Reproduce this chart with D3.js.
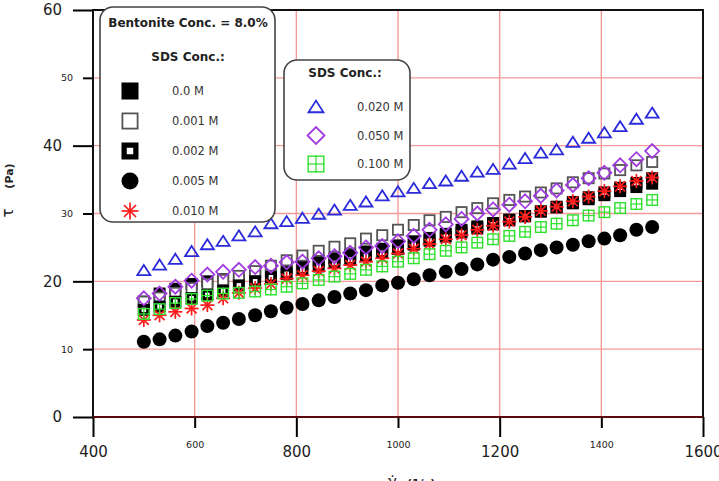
<!DOCTYPE html>
<html>
<head>
<meta charset="utf-8">
<script src="https://d3js.org/d3.v7.min.js"></script>
<style>
  body { margin: 0; background: #fff; }
  svg { display: block; font-family: "DejaVu Sans", Verdana, sans-serif; }
</style>
</head>
<body>
<script>
// shear rate (1/s)
var shearRate = [500, 531, 562, 594, 625, 656, 687, 719, 750, 781, 812, 844, 875, 906, 937, 969, 1000,
  1031, 1062, 1094, 1125, 1156, 1187, 1219, 1250, 1281, 1312, 1344, 1375, 1406, 1437, 1469, 1500];

// shear stress (Pa) for each SDS concentration
var sds000 = [17.0, 18.2, 18.9, 19.6, 20.0, 20.3, 20.6, 21.2, 21.6, 22.0, 22.5, 23.0, 23.4, 23.9, 24.4, 24.8, 25.3,
  25.9, 26.4, 27.0, 27.6, 28.1, 28.6, 29.1, 29.6, 30.3, 30.9, 31.5, 32.1, 32.7, 33.3, 33.9, 34.4];
var sds001 = [17.0, 17.6, 18.3, 19.0, 19.6, 20.2, 20.8, 21.5, 22.3, 23.1, 23.8, 24.5, 25.1, 25.6, 26.3, 26.8, 27.6,
  28.3, 29.0, 29.5, 30.2, 30.8, 31.5, 32.0, 32.5, 33.1, 33.7, 34.6, 35.2, 35.9, 36.4, 37.1, 37.6];
var sds002 = [15.8, 16.3, 17.0, 17.5, 18.0, 18.6, 19.4, 20.0, 20.6, 21.1, 21.7, 22.2, 22.7, 23.2, 23.7, 24.2, 24.8,
  25.4, 26.0, 26.6, 27.2, 27.8, 28.4, 29.0, 29.6, 30.3, 31.0, 31.7, 32.4, 33.1, 33.8, 34.5, 35.2];
var sds005 = [11.1, 11.45, 12.0, 12.6, 13.4, 13.9, 14.45, 15.0, 15.6, 16.1, 16.65, 17.2, 17.7, 18.2, 18.7, 19.4, 19.8,
  20.3, 20.9, 21.4, 21.8, 22.5, 23.2, 23.6, 24.1, 24.6, 25.0, 25.4, 25.9, 26.3, 26.8, 27.6, 28.0];
var sds010 = [14.3, 15.0, 15.5, 16.0, 16.5, 17.5, 18.3, 19.0, 19.6, 20.4, 20.9, 21.5, 21.9, 22.4, 22.9, 23.4, 24.1,
  24.8, 25.5, 26.2, 26.8, 27.6, 28.2, 28.8, 29.5, 30.4, 31.0, 31.8, 32.5, 33.3, 34.0, 34.8, 35.3];
var sds020 = [21.6, 22.4, 23.25, 24.4, 25.4, 25.9, 26.7, 27.3, 28.5, 28.8, 29.3, 29.9, 30.5, 31.2, 31.7, 32.6, 33.2,
  33.7, 34.4, 34.8, 35.5, 36.1, 36.5, 37.3, 38.1, 38.9, 39.4, 40.5, 41.1, 41.9, 42.8, 43.9, 44.8];
var sds050 = [17.5, 18.2, 19.2, 20.1, 21.0, 21.4, 21.7, 22.1, 22.3, 22.8, 22.9, 23.4, 23.7, 24.2, 25.0, 25.2, 25.9,
  26.7, 27.6, 28.4, 29.2, 30.0, 30.6, 31.3, 31.8, 32.6, 33.4, 34.2, 35.2, 36.0, 37.1, 38.0, 39.2];
var sds100 = [15.2, 15.9, 16.8, 17.4, 17.9, 18.2, 18.3, 18.5, 18.8, 19.2, 19.7, 20.2, 20.7, 21.1, 21.7, 22.2, 22.9,
  23.4, 24.0, 24.5, 25.0, 25.7, 26.2, 26.7, 27.3, 28.0, 28.5, 29.0, 29.7, 30.2, 30.8, 31.4, 32.0];

var legendLeft = ["0.0 M", "0.001 M", "0.002 M", "0.005 M", "0.010 M"];
var legendRight = ["0.020 M", "0.050 M", "0.100 M"];

var xMajor = [400, 800, 1200, 1600], xMinor = [600, 1000, 1400];
var yMajor = [0, 20, 40, 60], yMinor = [10, 30, 50];

var series = [
  { label: legendLeft[0], values: sds000, sym: "fill" },
  { label: legendLeft[1], values: sds001, sym: "open" },
  { label: legendLeft[2], values: sds002, sym: "hole" },
  { label: legendLeft[3], values: sds005, sym: "dot" },
  { label: legendLeft[4], values: sds010, sym: "star" },
  { label: legendRight[0], values: sds020, sym: "tri" },
  { label: legendRight[1], values: sds050, sym: "dia" },
  { label: legendRight[2], values: sds100, sym: "grid" }
];
var plotSize = { fill: 12, open: 12, hole: 12, dot: 14, star: 14, tri: 13, dia: 14, grid: 12 };

var W = 719, H = 481;
var svg = d3.select("body").append("svg").attr("width", W).attr("height", H);

var x = d3.scaleLinear().domain([400, 1600]).range([93, 703]);
var y = d3.scaleLinear().domain([0, 60]).range([417, 10]);

// marker drawing
function symbol(g, type, s) {
  var h = s / 2;
  if (type == "fill") {
    g.append("rect").attr("x", -h).attr("y", -h).attr("width", s).attr("height", s).attr("fill", "#000");
  } else if (type == "open") {
    g.append("rect").attr("x", -h + 0.9).attr("y", -h + 0.9).attr("width", s - 1.8).attr("height", s - 1.8)
      .attr("fill", "#fff").attr("stroke", "#555").attr("stroke-width", 1.8);
  } else if (type == "hole") {
    g.append("rect").attr("x", -h).attr("y", -h).attr("width", s).attr("height", s).attr("fill", "#000");
    var k = s * 0.19;
    g.append("rect").attr("x", -k).attr("y", -k).attr("width", 2 * k).attr("height", 2 * k).attr("fill", "#fff");
  } else if (type == "dot") {
    g.append("circle").attr("r", h).attr("fill", "#000");
  } else if (type == "star") {
    [0, 45, 90, 135].forEach(function(a) {
      var r = a * Math.PI / 180;
      g.append("line").attr("x1", -h * Math.cos(r)).attr("y1", -h * Math.sin(r))
        .attr("x2", h * Math.cos(r)).attr("y2", h * Math.sin(r))
        .attr("stroke", "#ff1a1a").attr("stroke-width", 1.7);
    });
  } else if (type == "tri") {
    g.append("path").attr("d", "M0," + (-h * 0.85) + "L" + h + "," + (h * 0.7) + "L" + (-h) + "," + (h * 0.7) + "Z")
      .attr("fill", "none").attr("stroke", "#2b2bdc").attr("stroke-width", 1.8);
  } else if (type == "dia") {
    g.append("path").attr("d", "M0," + (-h) + "L" + h + ",0L0," + h + "L" + (-h) + ",0Z")
      .attr("fill", "none").attr("stroke", "#a03ce0").attr("stroke-width", 1.8);
  } else if (type == "grid") {
    g.append("rect").attr("x", -h + 0.7).attr("y", -h + 0.7).attr("width", s - 1.4).attr("height", s - 1.4)
      .attr("fill", "none").attr("stroke", "#2fe02f").attr("stroke-width", 1.4);
    g.append("line").attr("x1", 0).attr("x2", 0).attr("y1", -h).attr("y2", h).attr("stroke", "#2fe02f").attr("stroke-width", 1.2);
    g.append("line").attr("y1", 0).attr("y2", 0).attr("x1", -h).attr("x2", h).attr("stroke", "#2fe02f").attr("stroke-width", 1.2);
  }
}

// grid
var grid = svg.append("g").attr("stroke", "#f59a9a").attr("stroke-width", 1.4);
grid.selectAll(".gx").data([600, 800, 1000, 1200, 1400]).enter().append("line")
  .attr("x1", d => x(d)).attr("x2", d => x(d)).attr("y1", y(60)).attr("y2", y(0));
grid.selectAll(".gy").data([10, 20, 30, 40, 50]).enter().append("line")
  .attr("y1", d => y(d)).attr("y2", d => y(d)).attr("x1", x(400)).attr("x2", x(1600));

// axes
function styleAxis(g, size) {
  g.select(".domain").remove();
  g.selectAll(".tick line").attr("stroke", "#000").attr("stroke-width", 2);
  g.selectAll("text").attr("font-size", size).attr("fill", "#222").attr("font-family", "DejaVu Sans, Verdana, sans-serif");
}
var gx1 = svg.append("g").attr("transform", "translate(0," + y(0) + ")")
  .call(d3.axisBottom(x).tickValues(xMajor).tickSize(20).tickPadding(9).tickFormat(d3.format("d")));
styleAxis(gx1, 15);
var gx2 = svg.append("g").attr("transform", "translate(0," + y(0) + ")")
  .call(d3.axisBottom(x).tickValues(xMinor).tickSize(11).tickPadding(9).tickFormat(d3.format("d")));
styleAxis(gx2, 9.5);
gx2.selectAll("text").attr("y", 24);
var gy1 = svg.append("g").attr("transform", "translate(" + x(400) + ",0)")
  .call(d3.axisLeft(y).tickValues(yMajor).tickSize(20).tickPadding(11));
styleAxis(gy1, 15);
var gy2 = svg.append("g").attr("transform", "translate(" + x(400) + ",0)")
  .call(d3.axisLeft(y).tickValues(yMinor).tickSize(10).tickPadding(10));
styleAxis(gy2, 9.5);

// frame
svg.append("rect").attr("x", x(400)).attr("y", y(60)).attr("width", x(1600) - x(400)).attr("height", y(0) - y(60))
  .attr("fill", "none").attr("stroke", "#111").attr("stroke-width", 2);
svg.append("line").attr("x1", x(400)).attr("x2", x(1600)).attr("y1", y(0)).attr("y2", y(0))
  .attr("stroke", "#5a0a0a").attr("stroke-width", 2);

// data points
series.forEach(function(s) {
  var g = svg.append("g");
  s.values.forEach(function(v, i) {
    var p = g.append("g").attr("transform", "translate(" + x(shearRate[i]) + "," + y(v) + ")");
    symbol(p, s.sym, plotSize[s.sym]);
  });
});

// legend 1
var lg1 = svg.append("g");
lg1.append("rect").attr("x", 100).attr("y", 7).attr("width", 175).attr("height", 215).attr("rx", 13)
  .attr("fill", "#fff").attr("stroke", "#444").attr("stroke-width", 1.6);
lg1.append("text").attr("x", 188).attr("y", 27).attr("text-anchor", "middle")
  .attr("font-size", 12).attr("font-weight", "bold").attr("fill", "#222").text("Bentonite Conc. = 8.0%");
lg1.append("text").attr("x", 188).attr("y", 61).attr("text-anchor", "middle")
  .attr("font-size", 12).attr("font-weight", "bold").attr("fill", "#222").text("SDS Conc.:");
series.slice(0, 5).forEach(function(s, i) {
  var cy = 91 + i * 30;
  symbol(lg1.append("g").attr("transform", "translate(130," + cy + ")"), s.sym, 17);
  lg1.append("text").attr("x", 172).attr("y", cy + 4).attr("font-size", 11.5).attr("fill", "#333").text(s.label);
});

// legend 2
var lg2 = svg.append("g");
lg2.append("rect").attr("x", 284).attr("y", 60).attr("width", 126).attr("height", 120).attr("rx", 13)
  .attr("fill", "#fff").attr("stroke", "#444").attr("stroke-width", 1.6);
lg2.append("text").attr("x", 345).attr("y", 77).attr("text-anchor", "middle")
  .attr("font-size", 12).attr("font-weight", "bold").attr("fill", "#222").text("SDS Conc.:");
series.slice(5).forEach(function(s, i) {
  var cy = 107 + i * 28.5;
  symbol(lg2.append("g").attr("transform", "translate(316," + cy + ")"), s.sym, s.sym == "tri" ? 15 : 17);
  lg2.append("text").attr("x", 357).attr("y", cy + 4).attr("font-size", 11.5).attr("fill", "#333").text(s.label);
});

// axis titles
svg.append("text").attr("transform", "translate(13,213) rotate(-90)").attr("text-anchor", "middle")
  .attr("font-size", 15).attr("fill", "#222").text("τ");
svg.append("text").attr("transform", "translate(13,176) rotate(-90)").attr("text-anchor", "middle")
  .attr("font-size", 11).attr("font-weight", "bold").attr("fill", "#222").text("(Pa)");
var xt = svg.append("text").attr("x", 388).attr("y", 487).attr("fill", "#222");
xt.append("tspan").attr("font-size", 15).text("γ\u0307");
xt.append("tspan").attr("font-size", 11).attr("font-weight", "bold").attr("dx", 10).text("(1/s)");
</script>
</body>
</html>
